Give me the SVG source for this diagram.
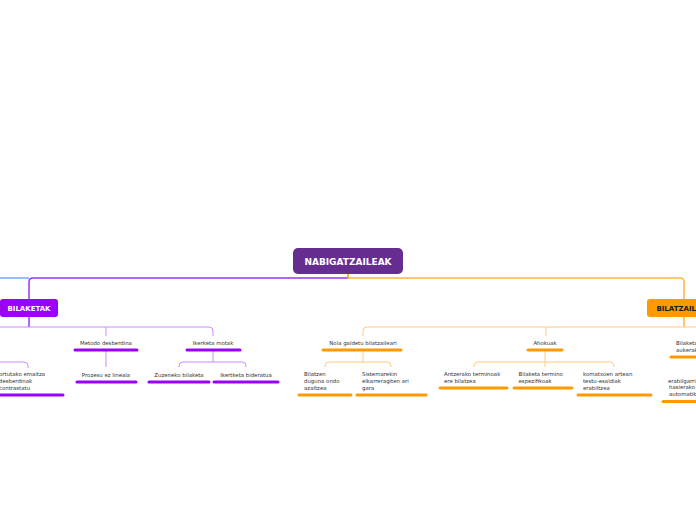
<svg xmlns="http://www.w3.org/2000/svg" width="696" height="520" viewBox="0 0 696 520">
<style>
.t{font-family:"DejaVu Sans",Verdana,sans-serif;font-size:5.4px;fill:#333}
.c{text-anchor:middle}
.hb{font-family:"DejaVu Sans",Verdana,sans-serif;font-weight:bold;text-anchor:middle}
.up{stroke:#9900ff;stroke-width:3;stroke-linecap:round;fill:none}
.uo{stroke:#ff9900;stroke-width:3;stroke-linecap:round;fill:none}
.lp{stroke:#c98cff;stroke-width:1;fill:none}
.lo{stroke:#ffcc80;stroke-width:1;fill:none}
</style>
<rect width="696" height="520" fill="#ffffff"/>
<g id="connectors">
  <path d="M29,278 H0" stroke="#70a8ff" stroke-width="1.5" fill="none"/>
  <path d="M348,278 H33 Q29,278 29,282 V299" stroke="#9b30ff" stroke-width="1.5" fill="none"/>
  <path d="M348,278 H680 Q684,278 684,282 V299" stroke="#ffb340" stroke-width="1.5" fill="none"/>
  <path d="M348,274 V278" stroke="#ff9900" stroke-width="1.5" fill="none"/>
  <path d="M29,317 V327" stroke="#9b30ff" stroke-width="1.5" fill="none"/>
  <path class="lp" d="M0,327 H209 Q213,327 213,331 V336"/>
  <path class="lp" d="M106,327 V336"/>
  <path class="lp" d="M106,350 V367"/>
  <path class="lp" d="M213,350 V362"/>
  <path class="lp" d="M179,367 V366 Q179,362 183,362 H242 Q246,362 246,366 V367"/>
  <path class="lp" d="M0,362 H24 Q28,362 28,366 V368"/>
  <path d="M684,317 V327" stroke="#ffb340" stroke-width="1.5" fill="none"/>
  <path class="lo" d="M363,336 V331 Q363,327 367,327 H696"/>
  <path class="lo" d="M546,327 V336"/>
  <path class="lo" d="M363,350 V362"/>
  <path class="lo" d="M325,367 V366 Q325,362 329,362 H387 Q391,362 391,366 V367"/>
  <path class="lo" d="M545,350 V367"/>
  <path class="lo" d="M474,367 V366 Q474,362 478,362 H610 Q614,362 614,366 V367"/>
</g>
<g id="root">
  <rect x="293" y="248" width="110" height="26" rx="5" fill="#662d91"/>
  <text class="hb" x="348" y="264.5" font-size="9" fill="#ffffff">NABIGATZAILEAK</text>
</g>
<g id="bilaketak">
  <rect x="0" y="299" width="58" height="18" rx="3" fill="#9900ff"/>
  <text class="hb" x="29" y="311" font-size="7" fill="#ffffff">BILAKETAK</text>
</g>
<g id="bilatzaileak">
  <rect x="647" y="299" width="74" height="18" rx="3" fill="#ff9900"/>
  <text class="hb" x="684" y="311" font-size="7" fill="#1a1a1a">BILATZAILEAK</text>
</g>
<g id="lortutako">
  <text class="t" x="-1" y="376">ortutako emaitza</text>
  <text class="t" x="-1" y="382.8">desberdinak</text>
  <text class="t" x="-1" y="389.6">contrastatu</text>
  <path class="up" d="M-5,395 H63"/>
</g>
<g id="metodo">
  <text class="t c" x="106" y="345">Metodo desberdina</text>
  <path class="up" d="M75,350 H137"/>
</g>
<g id="prozesu">
  <text class="t c" x="106" y="377">Prozesu ez lineala</text>
  <path class="up" d="M77,382 H136"/>
</g>
<g id="ikerketa">
  <text class="t c" x="213" y="345">Ikerketa motak</text>
  <path class="up" d="M187,350 H240"/>
</g>
<g id="zuzeneko">
  <text class="t c" x="179" y="377">Zuzeneko bilaketa</text>
  <path class="up" d="M149,382 H209"/>
</g>
<g id="ikertketa">
  <text class="t c" x="246" y="377">Ikertketa bideratua</text>
  <path class="up" d="M214,382 H278"/>
</g>
<g id="nola">
  <text class="t c" x="363" y="345">Nola galdetu bilatzaileari</text>
  <path class="uo" d="M323,350 H401"/>
</g>
<g id="bilatzen">
  <text class="t" x="304" y="376">Bilatzen</text>
  <text class="t" x="304" y="382.8">duguna ondo</text>
  <text class="t" x="304" y="389.6">azaltzea</text>
  <path class="uo" d="M299,395 H351"/>
</g>
<g id="sistemarekin">
  <text class="t" x="362" y="376">Sistemarekin</text>
  <text class="t" x="362" y="382.8">elkarreragiten ari</text>
  <text class="t" x="362" y="389.6">gara</text>
  <path class="uo" d="M357,395 H426"/>
</g>
<g id="ahokuak">
  <text class="t c" x="545" y="345">Ahokuak</text>
  <path class="uo" d="M528,350 H562"/>
</g>
<g id="antzerako">
  <text class="t" x="444" y="376">Antzerako terminoak</text>
  <text class="t" x="444" y="382.8">ere bilatzea</text>
  <path class="uo" d="M440,388 H507"/>
</g>
<g id="bilaketa-termino">
  <text class="t" x="518.5" y="376">Bilaketa termino</text>
  <text class="t" x="518.5" y="382.8">espezifikoak</text>
  <path class="uo" d="M514,388 H572"/>
</g>
<g id="komatxoen">
  <text class="t" x="583" y="376">komatxoen artean</text>
  <text class="t" x="583" y="382.8">testu-esaldiak</text>
  <text class="t" x="583" y="389.6">erabiltzea</text>
  <path class="uo" d="M578,395 H651"/>
</g>
<g id="bilaketa-aukerak">
  <text class="t" x="676" y="345">Bilaketa</text>
  <text class="t" x="676" y="351.8">aukerak</text>
  <path class="uo" d="M671,357 H700"/>
</g>
<g id="erabilgarri">
  <text class="t" x="668" y="382.5">erabilgarri</text>
  <text class="t" x="669" y="389.3">hasierako</text>
  <text class="t" x="669" y="396">automatik</text>
  <path class="uo" d="M663,401.5 H700"/>
</g>
</svg>
